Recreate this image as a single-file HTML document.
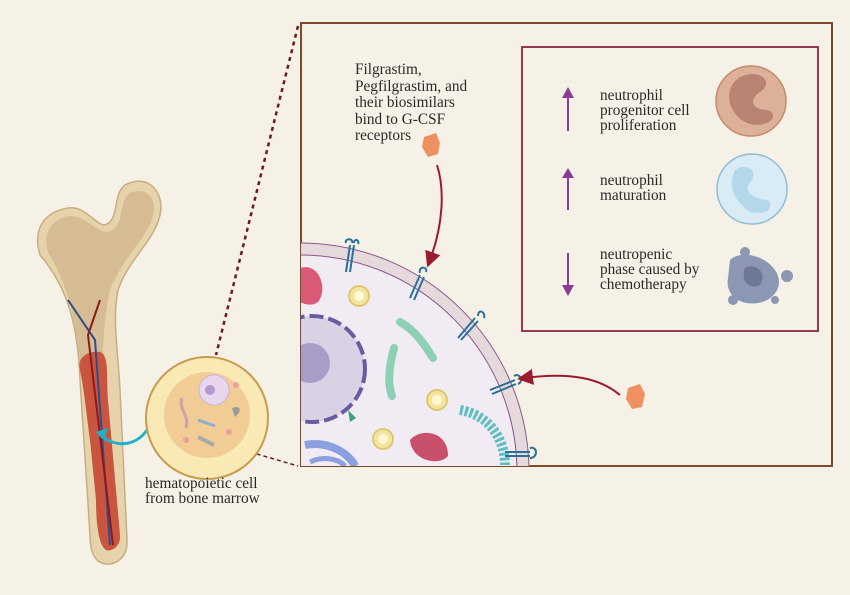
<!DOCTYPE html>
<html><head><meta charset="utf-8"><style>
html,body{margin:0;padding:0;background:#f5f1e6;overflow:hidden;width:850px;height:595px;}
svg{display:block}
text{font-family:"Liberation Serif",serif;fill:#2a2a2a;font-size:15.3px}
</style></head><body>
<svg width="850" height="595" viewBox="0 0 850 595" xmlns="http://www.w3.org/2000/svg">
<defs>
<clipPath id="box"><rect x="301" y="23" width="531" height="443"/></clipPath>
<marker id="ar" markerWidth="8" markerHeight="8" refX="4" refY="4" orient="auto"><path d="M0,0 L8,4 L0,8 z" fill="#9b1b2e"/></marker>
</defs>
<rect width="850" height="595" fill="#f5f1e6"/>
<line x1="298" y1="26" x2="216" y2="355" stroke="#6b1a24" stroke-width="2.5" stroke-dasharray="4,4"/>
<line x1="250" y1="452" x2="298" y2="466" stroke="#6b1a24" stroke-width="1.5" stroke-dasharray="4,3"/>
<!-- bone -->
<path d="M40,255 C32,228 45,212 68,208 C85,205 95,225 105,225 C120,220 112,195 125,185 C150,172 165,195 160,215 C155,240 128,260 118,290 C112,320 118,350 120,390 L127,540 C128,560 112,567 102,563 C92,560 90,545 90,535 L80,380 C78,330 70,290 40,255 Z" fill="#e6d3ab" stroke="#c9ad82" stroke-width="1.5"/>
<path d="M48,252 C42,232 52,220 68,216 C85,214 95,232 108,232 C125,228 118,205 128,194 C145,185 158,198 153,215 C148,238 122,258 110,290 C104,315 104,340 102,360 L80,360 C75,320 70,290 48,252 Z" fill="#d6bc93"/>
<path d="M80,370 C76,355 92,350 100,352 C110,355 106,380 108,400 L120,535 C121,548 110,552 106,550 C98,545 96,520 96,500 L90,440 C86,410 84,390 80,370 Z" fill="#c9553f"/>
<path d="M68,300 L95,340 L110,545" stroke="#2c4e8f" stroke-width="2" fill="none"/>
<path d="M100,300 L88,335 L113,545" stroke="#8b1a1a" stroke-width="2" fill="none"/>
<path d="M150,425 C140,445 118,450 100,435" stroke="#1fb1c8" stroke-width="3" fill="none"/>
<path d="M96,432 L108,428 L104,440 Z" fill="#1fb1c8"/>
<!-- hematopoietic circle -->
<circle cx="207" cy="418" r="61" fill="#f8e9b5" stroke="#c79c4e" stroke-width="2"/>
<circle cx="207" cy="415" r="43" fill="#f1cc95"/>
<circle cx="214" cy="390" r="15" fill="#e7d6ee" stroke="#c7b6d8"/>
<circle cx="210" cy="390" r="5" fill="#b39acb"/>
<circle cx="236" cy="385" r="3" fill="#ef9fa0"/><circle cx="229" cy="432" r="3" fill="#ef9fa0"/><circle cx="186" cy="440" r="3" fill="#ef9fa0"/>
<path d="M182,398 C178,410 190,415 186,428" stroke="#d4a0a8" stroke-width="3" fill="none"/>
<path d="M232,408 C240,405 243,410 235,417 Z" fill="#9a9a9a"/>
<path d="M198,420 L215,426" stroke="#8ab0d8" stroke-width="3"/>
<path d="M198,437 L214,445" stroke="#aaaaaa" stroke-width="4"/>
<text x="145" y="488">hematopoietic cell</text>
<text x="145" y="503">from bone marrow</text>
<!-- main box -->
<rect x="301" y="23" width="531" height="443" fill="#f5f1e6" stroke="#7d4a2c" stroke-width="2"/>
<g clip-path="url(#box)">
<circle cx="300" cy="472" r="229" fill="#e6d9db"/>
<circle cx="300" cy="472" r="229" fill="none" stroke="#8a5a8a" stroke-width="1"/>
<circle cx="300" cy="472" r="217" fill="#f1ebf4" stroke="#8a5a8a" stroke-width="1"/>
<circle cx="312" cy="369" r="53" fill="#d9d2e5" stroke="#6a5aa0" stroke-width="4" stroke-dasharray="14,5"/>
<circle cx="310" cy="363" r="20" fill="#a89cc9"/>
<path d="M300,268 C320,262 328,290 318,302 C310,308 300,302 300,302 Z" fill="#d95a74"/>
<path d="M410,440 C420,428 448,430 448,456 C440,466 412,462 410,440 Z" fill="#c9506a"/>
<circle cx="359" cy="296" r="10" fill="#f2e5a4" stroke="#ddc96b" stroke-width="2"/>
<circle cx="359" cy="296" r="5" fill="#fff8d0"/>
<circle cx="437" cy="400" r="10" fill="#f2e5a4" stroke="#ddc96b" stroke-width="2"/>
<circle cx="437" cy="400" r="5" fill="#fff8d0"/>
<circle cx="383" cy="439" r="10" fill="#f2e5a4" stroke="#ddc96b" stroke-width="2"/>
<circle cx="383" cy="439" r="5" fill="#fff8d0"/>
<path d="M400,322 C415,330 425,345 433,358" stroke="#8fcfb5" stroke-width="8" stroke-linecap="round" fill="none"/>
<path d="M394,348 C388,370 388,385 392,396" stroke="#8fcfb5" stroke-width="8" stroke-linecap="round" fill="none"/>
<path d="M460,410 C490,415 505,440 505,465" stroke="#5fbfc0" stroke-width="10" fill="none" stroke-dasharray="3,2"/>
<path d="M305,445 C330,440 350,455 355,466" stroke="#8aa0e0" stroke-width="8" fill="none"/>
<path d="M310,462 C325,455 340,460 345,466" stroke="#8aa0e0" stroke-width="5" fill="none"/>
<path d="M348,410 L356,418 L350,422 Z" fill="#3a9f80"/>
<g stroke="#2b6f9b" stroke-width="2" fill="none">
<path d="M350,245 L346,272 M354,245 L350,272"/><path d="M346,243 C344,238 354,238 352,243 M354,243 C354,238 360,240 358,244"/>
<path d="M420,275 L410,298 M424,277 L414,300"/><path d="M420,273 C418,266 428,266 426,272"/>
<path d="M475,318 L458,338 M478,321 L461,340"/><path d="M478,316 C478,308 486,312 484,318"/>
<path d="M515,380 L490,390 M516,384 L492,394"/><path d="M514,376 C520,372 524,382 518,384"/>
<path d="M530,452 L505,452 M530,456 L505,456"/><path d="M530,448 C538,446 538,458 530,458"/>
</g>
</g>
<path d="M437,165 C445,190 443,225 430,260" stroke="#9b1b2e" stroke-width="2" fill="none" marker-end="url(#ar)"/>
<path d="M620,395 C600,378 570,372 525,378" stroke="#9b1b2e" stroke-width="2" fill="none" marker-end="url(#ar)"/>
<path d="M424,137 L436,133 L440,143 L438,154 L428,157 L422,147 Z" fill="#ef9060"/>
<path d="M628,388 L640,384 L645,394 L642,407 L632,409 L626,399 Z" fill="#ef9060"/>
<text x="355" y="74">Filgrastim,</text>
<text x="355" y="91">Pegfilgrastim, and</text>
<text x="355" y="107">their biosimilars</text>
<text x="355" y="124">bind to G-CSF</text>
<text x="355" y="140">receptors</text>
<rect x="522" y="47" width="296" height="284" fill="#f5f1e6" stroke="#8b2346" stroke-width="1.8"/>
<g stroke="#8a3b95" stroke-width="2" fill="#8a3b95">
<line x1="568" y1="95" x2="568" y2="131"/><path d="M562,98 L568,87 L574,98 Z" stroke="none"/>
<line x1="568" y1="176" x2="568" y2="210"/><path d="M562,178 L568,168 L574,178 Z" stroke="none"/>
<line x1="568" y1="253" x2="568" y2="287"/><path d="M562,285 L568,296 L574,285 Z" stroke="none"/>
</g>
<text x="600" y="100">neutrophil</text>
<text x="600" y="115">progenitor cell</text>
<text x="600" y="130">proliferation</text>
<text x="600" y="185">neutrophil</text>
<text x="600" y="200">maturation</text>
<text x="600" y="259">neutropenic</text>
<text x="600" y="274">phase caused by</text>
<text x="600" y="289">chemotherapy</text>
<circle cx="751" cy="101" r="35" fill="#ddb09a" stroke="#c68a6e" stroke-width="1.5"/>
<path d="M740,77 C760,68 775,82 760,92 C748,100 752,110 768,110 C780,115 770,128 750,124 C730,118 720,90 740,77 Z" fill="#b98371"/>
<circle cx="752" cy="189" r="35" fill="#d9ecf5" stroke="#8fbcd8" stroke-width="1.5"/>
<path d="M735,170 C750,160 760,175 748,185 C745,195 760,200 768,200 C775,210 765,215 750,212 C740,205 725,190 735,170 Z" fill="#b5d7ea"/>
<path d="M730,260 C740,250 765,255 775,270 C785,285 775,300 758,303 C740,306 725,295 728,278 Z" fill="#8c97b3"/>
<circle cx="745" cy="252" r="5" fill="#8c97b3"/><circle cx="787" cy="276" r="6" fill="#8c97b3"/><circle cx="733" cy="300" r="5" fill="#8c97b3"/><circle cx="775" cy="300" r="4" fill="#8c97b3"/>
<path d="M745,268 C755,262 768,272 760,285 C750,290 740,282 745,268 Z" fill="#6e7895"/>
</svg>
</body></html>
